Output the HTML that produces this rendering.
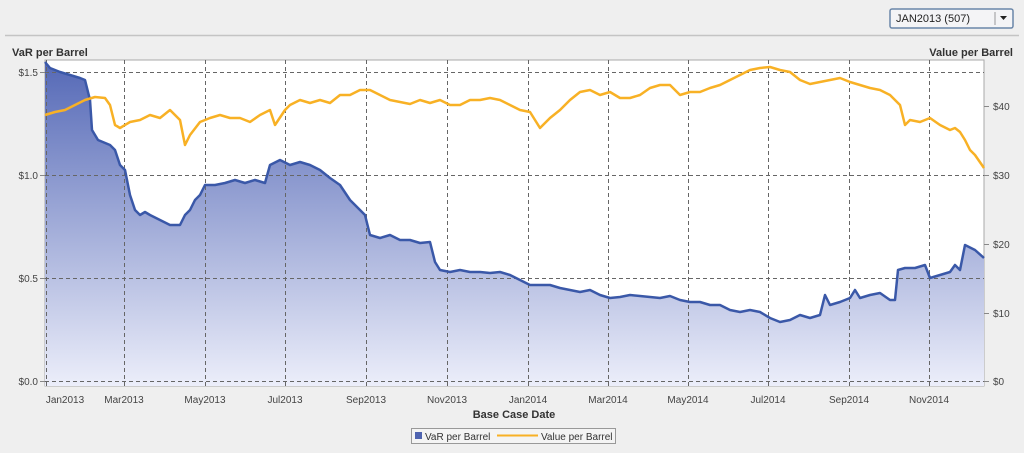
<!DOCTYPE html>
<html><head><style>
body{margin:0;background:#efefef;font-family:"Liberation Sans",sans-serif;}
</style></head><body>
<svg width="1024" height="453" xmlns="http://www.w3.org/2000/svg" style="display:block">
<defs>
<linearGradient id="g" x1="0" y1="0" x2="0" y2="1" gradientUnits="userSpaceOnUse" gradientTransform="" >
</linearGradient>
<linearGradient id="fill" x1="0" y1="60" x2="0" y2="386" gradientUnits="userSpaceOnUse">
<stop offset="0" stop-color="#5468b6"/><stop offset="1" stop-color="#eceefa"/></linearGradient>
</defs>
<rect x="890" y="9" width="123" height="19" rx="2" fill="#f4f4f6" stroke="#6a86a8" stroke-width="1.5"/>
<text x="896" y="22" font-size="11" fill="#222">JAN2013 (507)</text>
<line x1="995" y1="12" x2="995" y2="25" stroke="#999"/>
<path d="M1000 16h7l-3.5 4z" fill="#222"/>
<line x1="5" y1="35.5" x2="1019" y2="35.5" stroke="#c4c4c4" stroke-width="1.5"/>
<text x="12" y="56" font-size="11" font-weight="bold" fill="#333">VaR per Barrel</text>
<text x="1013" y="56" font-size="11" font-weight="bold" fill="#333" text-anchor="end">Value per Barrel</text>
<rect x="45" y="60" width="939" height="326" fill="#fff" stroke="#aaa"/>
<path fill="url(#fill)" d="M45 62L50 68L60 72L70 75L80 78L85 80L90 100L92 130L98 140L110 145L115 150L120 165L125 170L130 195L135 210L140 215L145 212L150 215L160 220L170 225L180 225L185 215L190 210L195 200L200 195L205 185L215 185L225 183L235 180L245 183L255 180L265 183L270 165L280 160L290 165L300 162L310 165L320 170L330 178L340 185L350 200L360 210L365 215L370 235L380 238L390 235L400 240L410 240L420 243L430 242L435 262L440 270L450 272L460 270L470 272L480 272L490 273L500 272L510 275L520 280L530 285L540 285L550 285L560 288L570 290L580 292L590 290L600 295L610 298L620 297L630 295L640 296L650 297L660 298L670 296L680 300L690 302L700 302L710 305L720 305L730 310L740 312L750 310L760 312L770 318L780 322L790 320L800 315L810 318L820 315L825 295L830 305L840 302L850 298L855 290L860 298L870 295L880 293L890 300L895 300L898 270L905 268L915 268L925 265L930 278L940 275L950 272L955 265L960 270L965 245L975 250L984 258L984 386L45 386Z"/>
<g stroke="#666" stroke-dasharray="4,3" stroke-width="1">
<line x1="45" y1="72.5" x2="984" y2="72.5"/><line x1="45" y1="175.5" x2="984" y2="175.5"/><line x1="45" y1="278.5" x2="984" y2="278.5"/><line x1="45" y1="381.5" x2="984" y2="381.5"/>
<line x1="46.5" y1="60" x2="46.5" y2="386"/><line x1="124.5" y1="60" x2="124.5" y2="386"/><line x1="205.5" y1="60" x2="205.5" y2="386"/><line x1="285.5" y1="60" x2="285.5" y2="386"/><line x1="366.5" y1="60" x2="366.5" y2="386"/><line x1="447.5" y1="60" x2="447.5" y2="386"/><line x1="528.5" y1="60" x2="528.5" y2="386"/><line x1="608.5" y1="60" x2="608.5" y2="386"/><line x1="688.5" y1="60" x2="688.5" y2="386"/><line x1="768.5" y1="60" x2="768.5" y2="386"/><line x1="849.5" y1="60" x2="849.5" y2="386"/><line x1="929.5" y1="60" x2="929.5" y2="386"/>
</g>
<polyline fill="none" stroke="#3a58a8" stroke-width="2.5" stroke-linejoin="round" points="45,62 50,68 60,72 70,75 80,78 85,80 90,100 92,130 98,140 110,145 115,150 120,165 125,170 130,195 135,210 140,215 145,212 150,215 160,220 170,225 180,225 185,215 190,210 195,200 200,195 205,185 215,185 225,183 235,180 245,183 255,180 265,183 270,165 280,160 290,165 300,162 310,165 320,170 330,178 340,185 350,200 360,210 365,215 370,235 380,238 390,235 400,240 410,240 420,243 430,242 435,262 440,270 450,272 460,270 470,272 480,272 490,273 500,272 510,275 520,280 530,285 540,285 550,285 560,288 570,290 580,292 590,290 600,295 610,298 620,297 630,295 640,296 650,297 660,298 670,296 680,300 690,302 700,302 710,305 720,305 730,310 740,312 750,310 760,312 770,318 780,322 790,320 800,315 810,318 820,315 825,295 830,305 840,302 850,298 855,290 860,298 870,295 880,293 890,300 895,300 898,270 905,268 915,268 925,265 930,278 940,275 950,272 955,265 960,270 965,245 975,250 984,258"/>
<polyline fill="none" stroke="#f8b125" stroke-width="2.5" stroke-linejoin="round" points="45,115 55,112 65,110 75,105 85,100 95,97 105,98 110,105 115,125 120,128 130,122 140,120 150,115 160,118 170,110 180,120 185,145 190,135 200,122 210,118 220,115 230,118 240,118 250,122 260,115 270,110 275,125 285,110 290,105 300,100 310,103 320,100 330,103 340,95 350,95 360,90 370,90 380,95 390,100 400,102 410,104 420,100 430,103 440,100 450,105 460,105 470,100 480,100 490,98 500,100 510,105 520,110 530,112 535,120 540,128 550,118 560,110 570,100 580,92 590,90 600,95 610,92 620,98 630,98 640,95 650,88 660,85 670,85 680,95 690,92 700,92 710,88 720,85 730,80 740,75 750,70 760,68 770,67 780,70 790,72 800,80 810,84 820,82 830,80 840,78 850,82 860,85 870,88 880,90 890,95 900,105 905,125 910,120 920,122 930,118 940,125 950,130 955,128 960,132 965,140 970,150 975,155 984,168"/>
<g stroke="#888"><line x1="40" y1="72.5" x2="45" y2="72.5"/><line x1="40" y1="175.5" x2="45" y2="175.5"/><line x1="40" y1="278.5" x2="45" y2="278.5"/><line x1="40" y1="381.5" x2="45" y2="381.5"/>
<line x1="984" y1="106.5" x2="989" y2="106.5"/><line x1="984" y1="175.5" x2="989" y2="175.5"/><line x1="984" y1="244.5" x2="989" y2="244.5"/><line x1="984" y1="313.5" x2="989" y2="313.5"/><line x1="984" y1="381.5" x2="989" y2="381.5"/></g>
<g font-size="10" fill="#444" text-anchor="end"><text x="38" y="76">$1.5</text><text x="38" y="179">$1.0</text><text x="38" y="282">$0.5</text><text x="38" y="385">$0.0</text></g>
<g font-size="10" fill="#444"><text x="993" y="110">$40</text><text x="993" y="179">$30</text><text x="993" y="248">$20</text><text x="993" y="317">$10</text><text x="993" y="385">$0</text></g>
<g font-size="10" fill="#444" text-anchor="middle"><text x="65" y="403">Jan2013</text><text x="124" y="403">Mar2013</text><text x="205" y="403">May2013</text><text x="285" y="403">Jul2013</text><text x="366" y="403">Sep2013</text><text x="447" y="403">Nov2013</text><text x="528" y="403">Jan2014</text><text x="608" y="403">Mar2014</text><text x="688" y="403">May2014</text><text x="768" y="403">Jul2014</text><text x="849" y="403">Sep2014</text><text x="929" y="403">Nov2014</text></g>
<text x="514" y="418" font-size="11" font-weight="bold" fill="#333" text-anchor="middle">Base Case Date</text>
<rect x="411.5" y="428.5" width="204" height="15" fill="#f4f4f4" stroke="#999"/>
<rect x="415" y="432" width="7" height="7" fill="#4f64b0"/>
<text x="425" y="440" font-size="10" fill="#333">VaR per Barrel</text>
<line x1="497" y1="435.5" x2="538" y2="435.5" stroke="#f8b125" stroke-width="2"/>
<text x="541" y="440" font-size="10" fill="#333">Value per Barrel</text>
</svg>
</body></html>
